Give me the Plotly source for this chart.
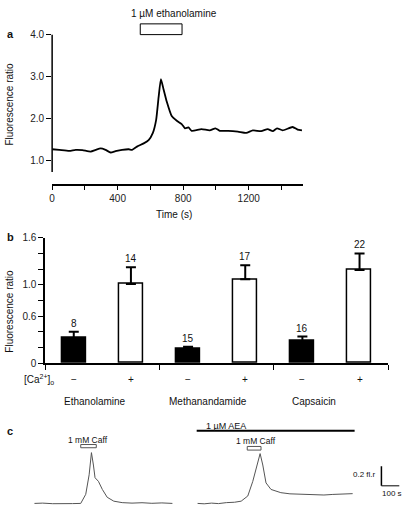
import plotly.graph_objects as go

W, H = 405, 514
def fx(px): return px / W
def fy(py): return 1 - py / H

FONT = "Liberation Sans, Arial, sans-serif"

# ---------------- Panel a data ----------------
time_a = [0, 44, 104, 144, 185, 235, 266, 296, 326, 357, 387, 427, 468, 488, 518, 559, 589, 615, 635, 650,
          664, 680, 700, 730, 761, 791, 811, 832, 852, 912, 962, 997, 1023, 1074, 1134, 1185, 1225, 1276, 1316, 1347,
          1373, 1407, 1468, 1498, 1525]
ratio_a = [1.27, 1.256, 1.233, 1.256, 1.25, 1.216, 1.256, 1.29, 1.256, 1.193, 1.224, 1.256, 1.27, 1.256, 1.333, 1.41, 1.488, 1.66, 1.97, 2.51,
           2.94, 2.70, 2.40, 2.06, 1.95, 1.87, 1.77, 1.79, 1.71, 1.75, 1.72, 1.77, 1.71, 1.71, 1.69, 1.66, 1.72, 1.70, 1.75, 1.70,
           1.77, 1.72, 1.80, 1.74, 1.72]
stim_a = [538, 793]  # s, 1 µM ethanolamine
xa_major = [0, 400, 800, 1200]
xa_minor = [200, 600, 1000, 1400]
ya_ticks = [1, 2, 3, 4]
ya_text = ["1.0", "2.0", "3.0", "4.0"]

# ---------------- Panel b data ----------------
agents = ["Ethanolamine", "Methanandamide", "Capsaicin"]
ca_labels = ["\u2212", "+"]
mean_free = [0.32, 0.19, 0.28]
err_free = [0.08, 0.02, 0.06]
n_free = ["8", "15", "16"]
mean_ca = [1.01, 1.07, 1.19]
err_ca = [0.215, 0.18, 0.21]
n_ca = ["14", "17", "22"]
yb_major = [0, 0.6, 1.0, 1.6]
yb_text = ["0", "0.6", "1.0", "1.6"]
yb_minor = [0.2, 0.4, 0.8, 1.2, 1.4]

# ---------------- Panel c data ----------------
t_c1 = [0, 46, 102, 157, 213, 259, 287, 306, 319, 330, 339, 358, 380, 407, 444, 491, 546, 602, 657, 713, 772]
v_c1 = [0, 0.003, -0.003, 0.001, -0.002, 0, 0.093, 0.293, 0.52, 0.393, 0.263, 0.226, 0.143, 0.063, 0.023, 0.008, 0.003, 0.007, 0.001, 0.005, 0]
t_c2 = [913, 950, 991, 1030, 1074, 1120, 1157, 1194, 1222, 1244, 1263, 1278, 1296, 1324, 1379, 1430, 1490, 1550, 1620, 1670, 1713, 1781]
v_c2 = [0, -0.004, 0.003, -0.002, 0.008, 0.012, 0.023, 0.076, 0.226, 0.393, 0.51, 0.393, 0.21, 0.143, 0.11, 0.098, 0.093, 0.09, 0.086, 0.092, 0.095, 0.1]
caff1 = [259, 346]
caff2 = [1191, 1268]
aea = [908, 1792]

fig = go.Figure()

# Panel a trace
fig.add_trace(go.Scatter(x=time_a, y=ratio_a, mode="lines", line=dict(color="black", width=1.8, shape="spline", smoothing=0.5),
                         xaxis="x", yaxis="y", showlegend=False, hoverinfo="skip"))

# Panel b bars
x_free = [2 * i + 0.5 for i in range(len(agents))]
x_ca = [2 * i + 1.5 for i in range(len(agents))]
fig.add_trace(go.Bar(x=x_free, y=mean_free, width=0.42, marker=dict(color="black", line=dict(color="black", width=1.5)),
                     error_y=dict(type="data", array=err_free, arrayminus=[0] * 3, symmetric=False, thickness=2, width=5, color="black"),
                     xaxis="x2", yaxis="y2", showlegend=False, hoverinfo="skip"))
fig.add_trace(go.Bar(x=x_ca, y=mean_ca, width=0.42, marker=dict(color="white", line=dict(color="black", width=1.5)),
                     error_y=dict(type="data", array=err_ca, arrayminus=[0] * 3, symmetric=False, thickness=2, width=5, color="black"),
                     xaxis="x2", yaxis="y2", showlegend=False, hoverinfo="skip"))

# Panel c traces
fig.add_trace(go.Scatter(x=t_c1, y=v_c1, mode="lines", line=dict(color="#555555", width=1),
                         xaxis="x3", yaxis="y3", showlegend=False, hoverinfo="skip"))
fig.add_trace(go.Scatter(x=t_c2, y=v_c2, mode="lines", line=dict(color="#555555", width=1),
                         xaxis="x3", yaxis="y3", showlegend=False, hoverinfo="skip"))

tickfont = dict(family=FONT, size=10, color="#222222")
minor_x = dict(ticks="outside", ticklen=4, tickwidth=1.2, tickcolor="black", showgrid=False)

fig.update_layout(
    width=W, height=H, margin=dict(l=0, r=0, t=0, b=0),
    paper_bgcolor="white", plot_bgcolor="white",
    bargap=0, barmode="overlay",
    xaxis=dict(domain=[fx(49.5), fx(302)], range=[0, 1530], anchor="y", showline=True, linecolor="black", linewidth=1.5,
               ticks="outside", ticklen=4, tickwidth=1.2, tickcolor="black", tickvals=xa_major,
               ticktext=[str(v) for v in xa_major], tickfont=tickfont,
               minor=dict(tickvals=xa_minor, **minor_x),
               showgrid=False, zeroline=False),
    yaxis=dict(domain=[fy(182), fy(29.3)], range=[0.449, 4.0], anchor="x", showline=False,
               ticks="outside", ticklen=5, tickwidth=1.2, tickcolor="black", tickvals=ya_ticks,
               ticktext=ya_text, tickfont=tickfont, showgrid=False, zeroline=False),
    xaxis2=dict(domain=[fx(42.5), fx(388)], range=[0, 6], anchor="y2", showline=True, linecolor="black", linewidth=1.5,
                ticks="outside", ticklen=5, tickwidth=1.2, tickcolor="black", tickvals=[0, 2, 4, 6],
                showticklabels=False, showgrid=False, zeroline=False),
    yaxis2=dict(domain=[fy(365.7), fy(237.3)], range=[0, 1.6], anchor="x2", showline=True, linecolor="black", linewidth=1.5,
                ticks="outside", ticklen=5, tickwidth=1.2, tickcolor="black",
                tickvals=yb_major, ticktext=yb_text, tickfont=tickfont,
                minor=dict(tickvals=yb_minor, ticks="outside", ticklen=5, tickwidth=1.2, tickcolor="black", showgrid=False),
                showgrid=False, zeroline=False),
    xaxis3=dict(domain=[fx(20), 1], range=[-65, 2074], anchor="y3", visible=False),
    yaxis3=dict(domain=[0, fy(425)], range=[-0.047, 0.843], anchor="x3", visible=False),
)

shapes = []
# y-axis line of panel a (detached from x axis)
shapes.append(dict(type="line", xref="paper", yref="y", x0=fx(49.5), x1=fx(49.5), y0=0.73, y1=4.0,
                   line=dict(color="black", width=1.5)))
# stimulus box panel a
shapes.append(dict(type="rect", xref="x", yref="paper", x0=stim_a[0], x1=stim_a[1], y0=fy(29.3), y1=fy(18.3),
                   line=dict(color="black", width=1), fillcolor="white"))
# panel c caffeine boxes
shapes.append(dict(type="rect", xref="x3", yref="y3", x0=caff1[0], x1=caff1[1], y0=0.57, y1=0.603,
                   line=dict(color="#555555", width=1), fillcolor="white"))
shapes.append(dict(type="rect", xref="x3", yref="y3", x0=caff2[0], x1=caff2[1], y0=0.546, y1=0.583,
                   line=dict(color="#555555", width=1), fillcolor="white"))
# AEA bar
shapes.append(dict(type="line", xref="x3", yref="y3", x0=aea[0], x1=aea[1], y0=0.743, y1=0.743,
                   line=dict(color="black", width=2)))
# scale bars
shapes.append(dict(type="line", xref="x3", yref="y3", x0=1942, x1=1942, y0=0.18, y1=0.38,
                   line=dict(color="black", width=1.5)))
shapes.append(dict(type="line", xref="x3", yref="y3", x0=1942, x1=2042, y0=0.18, y1=0.18,
                   line=dict(color="black", width=1)))
fig.update_layout(shapes=shapes)

ann = []
def txt(text, x, y, size=10, xanchor="center", yanchor="middle", xref="paper", yref="paper", bold=False, angle=0, color="#111111"):
    ann.append(dict(text=f"<b>{text}</b>" if bold else text, x=x, y=y, xref=xref, yref=yref, showarrow=False,
                    xanchor=xanchor, yanchor=yanchor, textangle=angle,
                    font=dict(family=FONT, size=size, color=color)))

txt("a", fx(2), fy(29), size=11, xanchor="left", bold=True)
txt("b", fx(2), fy(237), size=11, xanchor="left", bold=True)
txt("c", fx(2), fy(435), size=11, xanchor="left", bold=True)
txt("1 \u00b5M ethanolamine", fx(172), fy(8), size=10)
txt("Fluorescence ratio", fx(7), fy(100), size=10, angle=-90)
txt("Fluorescence ratio", fx(7), fy(312), size=10, angle=-90)
txt("Time (s)", fx(172), fy(213), size=10)
txt("[Ca<sup>2+</sup>]<sub>o</sub>", fx(36), fy(382), size=10)
for i in range(len(agents)):
    txt(ca_labels[0], x_free[i], fy(382), size=10, xref="x2")
    txt(ca_labels[1], x_ca[i], fy(382), size=10, xref="x2")
    ann.append(dict(text=n_free[i], x=x_free[i], y=mean_free[i] + err_free[i], xref="x2", yref="y2", showarrow=False,
                    yanchor="bottom", yshift=1, font=dict(family=FONT, size=10, color="#111111")))
    ann.append(dict(text=n_ca[i], x=x_ca[i], y=mean_ca[i] + err_ca[i], xref="x2", yref="y2", showarrow=False,
                    yanchor="bottom", yshift=1, font=dict(family=FONT, size=10, color="#111111")))
for name, cx in zip(agents, [93, 207, 313]):
    txt(name, fx(cx), fy(405), size=10)
txt("1 mM Caff", fx(85.7), fy(444), size=8.5)
txt("1 mM Caff", fx(255), fy(445), size=8.5)
txt("1 \u00b5M AEA", fx(225), fy(430), size=9)
txt("0.2 fl.r", fx(378), fy(480), size=8, xanchor="right")
txt("100 s", fx(392), fy(499), size=8)
fig.update_layout(annotations=ann)

fig.write_html("out.html", config={"displayModeBar": False},
               post_script="document.body.style.margin='0';document.body.style.overflow='hidden';")
